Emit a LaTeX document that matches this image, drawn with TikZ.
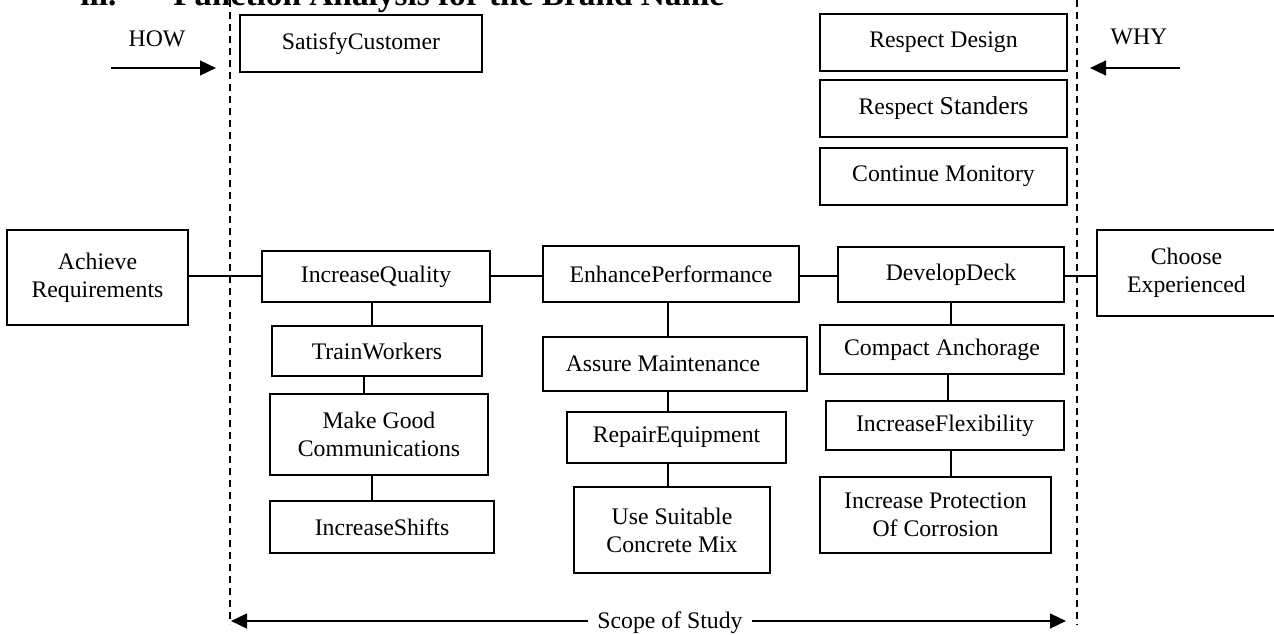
\documentclass[tikz,border=0pt]{standalone}
\usepackage{fontspec}
\setmainfont{Liberation Serif}
\usetikzlibrary{arrows.meta}

% box from (x1,y1) to (x2,y2): name, x1, y1, x2, y2, text
\newcommand\fbx[6]{%
  \node[fbox, minimum width={(#4-#2)*0.75pt}, minimum height={(#5-#3)*0.75pt}]
    (#1) at ({(#2+#4)/2},{(#3+#5)/2}) {#6};}

\begin{document}
\begin{tikzpicture}[x=0.75pt,y=-0.75pt,
  fbox/.style={draw, line width=1.3pt, inner sep=0pt, align=center,
               font=\fontsize{17.8}{21}\selectfont},
  lbl/.style={inner sep=0pt, font=\fontsize{17.8}{21}\selectfont},
  hlink/.style={line width=1.7pt},
  vlink/.style={line width=1.1pt},
  scopeline/.style={dash pattern=on 5.25pt off 3.75pt, line width=1.1pt},
  bigarrow/.style={line width=1.8pt, -{Triangle[length=12pt,width=11pt]}},
  headfont/.style={anchor=base west, inner sep=0pt,
                   font=\bfseries\fontsize{25}{30}\selectfont}]

\useasboundingbox (0,0) rectangle (1274,635);
\clip (0,0) rectangle (1274,635);

% section heading
\node[headfont] (tnum) at (80,6) {iii.};
\node[headfont] (ttl) at (173,6) {Function Analysis for the Brand Name};

% scope boundaries
\coordinate (ldt) at (230,0);   \coordinate (ldb) at (230,624);
\coordinate (rdt) at (1077,0);  \coordinate (rdb) at (1077,625);
\draw[scopeline] (ldt) -- (ldb);
\draw[scopeline] (rdt) -- (rdb);

% HOW / WHY directions
\node[lbl, anchor=base] (how) at (157,47) {HOW};
\node[lbl, anchor=base] (why) at (1139,45) {WHY};
\coordinate (howA) at (111,68);  \coordinate (howB) at (216,68);
\coordinate (whyA) at (1180,68); \coordinate (whyB) at (1090,68);
\draw[bigarrow] (howA) -- (howB);
\draw[bigarrow] (whyA) -- (whyB);

% function boxes
\fbx{sat}{240}{15}{482}{72}{SatisfyCustomer}
\fbx{rd}{820}{14}{1067}{71}{Respect Design}
\fbx{rs}{820}{80}{1067}{137}{Respect {\fontsize{19.3}{21}\selectfont Standers}}
\fbx{cm}{820}{148}{1067}{205}{Continue Monitory}

\fbx{ach}{7}{230}{188}{325}{Achieve\\Requirements}
\fbx{iq}{262}{251}{490}{302}{IncreaseQuality}
\fbx{ep}{543}{246}{799}{302}{EnhancePerformance}
\fbx{dd}{838}{247}{1064}{302}{DevelopDeck}
\fbx{ch}{1097}{230}{1276}{316}{Choose\\Experienced}

\fbx{tw}{272}{326}{482}{376}{TrainWorkers}
\fbx{mg}{270}{394}{488}{475}{Make Good\\Communications}
\fbx{is}{270}{501}{494}{553}{IncreaseShifts}

\fbx{am}{543}{337}{807}{391}{Assure Maintenance\rule{18pt}{0pt}}
\fbx{re}{567}{412}{786}{463}{RepairEquipment}
\fbx{us}{574}{487}{770}{573}{Use Suitable\\Concrete Mix}

\fbx{ca}{820}{325}{1064}{374}{Compact Anchorage}
\fbx{ifl}{826}{401}{1064}{450}{IncreaseFlexibility}
\fbx{ip}{820}{477}{1051}{553}{Increase Protection\\Of Corrosion}

% main chain
\draw[hlink] (ach.east |- 0,276) -- (iq.west |- 0,276);
\draw[hlink] (iq.east |- 0,276) -- (ep.west |- 0,276);
\draw[hlink] (ep.east |- 0,276) -- (dd.west |- 0,276);
\draw[hlink] (dd.east |- 0,276) -- (ch.west |- 0,276);

% branches
\draw[vlink] (iq.south -| 372,0) -- (tw.north -| 372,0);
\draw[vlink] (tw.south -| 364,0) -- (mg.north -| 364,0);
\draw[vlink] (mg.south -| 372,0) -- (is.north -| 372,0);
\draw[vlink] (ep.south -| 668,0) -- (am.north -| 668,0);
\draw[vlink] (am.south -| 668,0) -- (re.north -| 668,0);
\draw[vlink] (re.south -| 668,0) -- (us.north -| 668,0);
\draw[vlink] (dd.south -| 951,0) -- (ca.north -| 951,0);
\draw[vlink] (ca.south -| 948,0) -- (ifl.north -| 948,0);
\draw[vlink] (ifl.south -| 951,0) -- (ip.north -| 951,0);

% scope of study
\node[lbl, anchor=base, inner xsep=7pt] (scope) at (670,628) {Scope of Study};
\coordinate (scL) at (231,621);
\coordinate (scR) at (1066,621);
\draw[bigarrow] (scope.west |- scL) -- (scL);
\draw[bigarrow] (scope.east |- scR) -- (scR);
\end{tikzpicture}
\end{document}
